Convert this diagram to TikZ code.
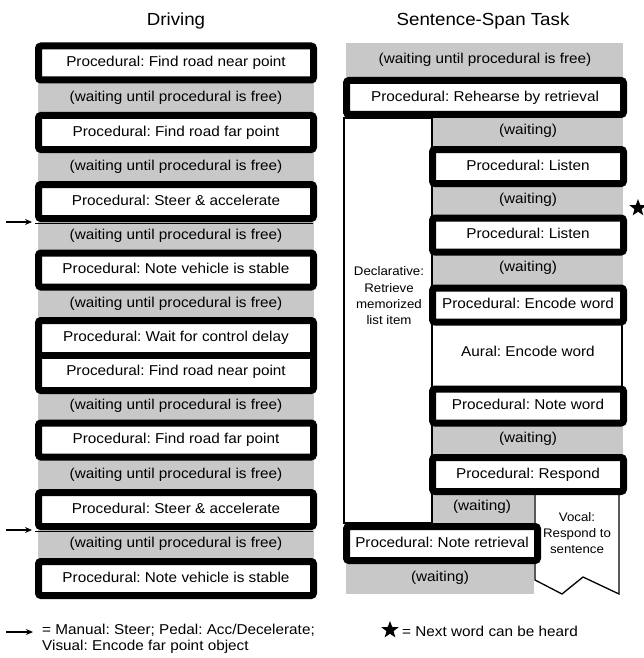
\documentclass[tikz,border=0pt]{standalone}
\usepackage{fontspec}
\setmainfont{Liberation Sans}[FakeStretch=1.07]
\usetikzlibrary{arrows.meta,shapes.geometric}
\definecolor{waitgray}{HTML}{C8C8C8}
\newcommand\labelfont{\fontsize{14.3}{16}\selectfont}
\newcommand\notefont{\fontsize{12.4}{16.3}\selectfont}
\newcommand\headfont{\fontsize{17.5}{20}\selectfont}
\frenchspacing

\tikzset{
  every node/.style={font=\labelfont, inner sep=0pt},
  pbox/.style={draw=black, line width=7pt, rounded corners=2.5pt, fill=white,
    minimum height=34pt, text height=10.5pt, text depth=3pt},
  leftbox/.style={pbox, minimum width=275pt},
  rightbox/.style={pbox, minimum width=191pt},
  waittext/.style={text height=10.5pt, text depth=3pt},
  thinbox/.style={draw=black, line width=1.3pt, fill=white},
  grayfill/.style={fill=waitgray},
  motor/.style={line width=2pt, -{Stealth[length=7pt,width=6pt]}},
  heading/.style={font=\headfont},
  note/.style={font=\notefont, align=center},
  starmark/.style={star, star points=5, star point ratio=2.4, fill=black,
    minimum size=18pt, inner sep=0pt}
}

\begin{document}
\begin{tikzpicture}[x=1pt, y=-1pt]
\useasboundingbox (0,0) rectangle (644,658);

% ---------- column headings ----------
\node[heading] (hdrive) at (176,21) {Driving};
\node[heading] (hspan) at (483,21) {Sentence-Span Task};

% ---------- grey waiting periods ----------
\fill[grayfill] (38,80) rectangle (314,561);
\fill[grayfill] (346,43) rectangle (623,80);
\fill[grayfill] (432,116) rectangle (623,456);
\fill[grayfill] (432,493) rectangle (534,526);
\fill[grayfill] (346,561) rectangle (534,594);

% ---------- driving column ----------
\node[leftbox] (d1) at (176,63) {Procedural: Find road near point};
\node[waittext] (w1) at (176,97.5) {(waiting until procedural is free)};
\node[leftbox] (d2) at (176,132.5) {Procedural: Find road far point};
\node[waittext] (w2) at (176,167) {(waiting until procedural is free)};
\node[leftbox] (d3) at (176,201.5) {Procedural: Steer \& accelerate};
\node[waittext] (w3) at (176,236) {(waiting until procedural is free)};
\node[leftbox] (d4) at (176,270) {Procedural: Note vehicle is stable};
\node[waittext] (w4) at (176,303.5) {(waiting until procedural is free)};
\node[leftbox, minimum height=70pt] (d5) at (176,355.5) {};
\draw[line width=7pt] (d5.west) -- (d5.east);
\node[waittext] (d5a) at (176,337.5) {Procedural: Wait for control delay};
\node[waittext] (d5b) at (176,371.5) {Procedural: Find road near point};
\node[waittext] (w5) at (176,406) {(waiting until procedural is free)};
\node[leftbox] (d6) at (176,440) {Procedural: Find road far point};
\node[waittext] (w6) at (176,474.5) {(waiting until procedural is free)};
\node[leftbox] (d7) at (176,509.5) {Procedural: Steer \& accelerate};
\node[waittext] (w7) at (176,544) {(waiting until procedural is free)};
\node[leftbox] (d8) at (176,578.5) {Procedural: Note vehicle is stable};

% motor/visual actions launched by steering
\draw[line width=1pt] ([yshift=-1.2pt]d3.south west) -- ([shift={(-4pt,-1.2pt)}]d3.south east);
\draw[line width=1pt] ([yshift=-1.2pt]d7.south west) -- ([shift={(-4pt,-1.2pt)}]d7.south east);
\coordinate (m1) at (6,222);
\coordinate (m2) at (6,530);
\draw[motor] (m1) -- ([xshift=-3pt]m1 -| d3.west);
\draw[motor] (m2) -- ([xshift=-3pt]m2 -| d7.west);

% ---------- sentence-span column ----------
\node[waittext] (s0) at (485,60) {(waiting until procedural is free)};

\node[thinbox, minimum width=88pt, minimum height=405pt] (decl) at (388,320.5) {};
\node[note] (declt) at (389,296) {Declarative:\\Retrieve\\memorized\\list item};

\node[thinbox, minimum width=190pt, minimum height=66pt] (aural) at (527,355) {};
\node[waittext] (aurt) at (528,353) {Aural: Encode word};

\draw[thinbox] (535,493) -- (535,580) -- (562,594) -- (583,577) -- (619,594) -- (619,493);
\node[note] (vocal) at (577,533) {Vocal:\\Respond to\\sentence};

\node[pbox, minimum width=277pt] (r1) at (485,97.5) {Procedural: Rehearse by retrieval};
\node[waittext] (s1) at (528,131) {(waiting)};
\node[rightbox] (r2) at (528,166.5) {Procedural: Listen};
\node[waittext] (s2) at (528,200) {(waiting)};
\node[rightbox] (r3) at (528,235) {Procedural: Listen};
\node[waittext] (s3) at (528,267.5) {(waiting)};
\node[rightbox] (r4) at (528,305) {Procedural: Encode word};
\node[rightbox] (r5) at (528,406) {Procedural: Note word};
\node[waittext] (s5) at (528,438.5) {(waiting)};
\node[rightbox] (r6) at (528,474.5) {Procedural: Respond};
\node[waittext] (s6) at (482,507) {(waiting)};
\node[rightbox] (r7) at (442,543.5) {Procedural: Note retrieval};
\node[waittext] (s7) at (440,577.5) {(waiting)};

\node[starmark] (nextword) at (638,208) {};

% ---------- legend ----------
\coordinate (lg) at (6,632);
\draw[motor] (lg) -- ++(27,0);
\node[anchor=north west, align=left, font=\labelfont] (legmotor) at (42,624)
  {= Manual: Steer; Pedal: Acc/Decelerate;\\Visual: Encode far point object};
\node[starmark] (legstar) at (390,630) {};
\node[anchor=west] (legstart) at (402,631) {= Next word can be heard};
\end{tikzpicture}
\end{document}
